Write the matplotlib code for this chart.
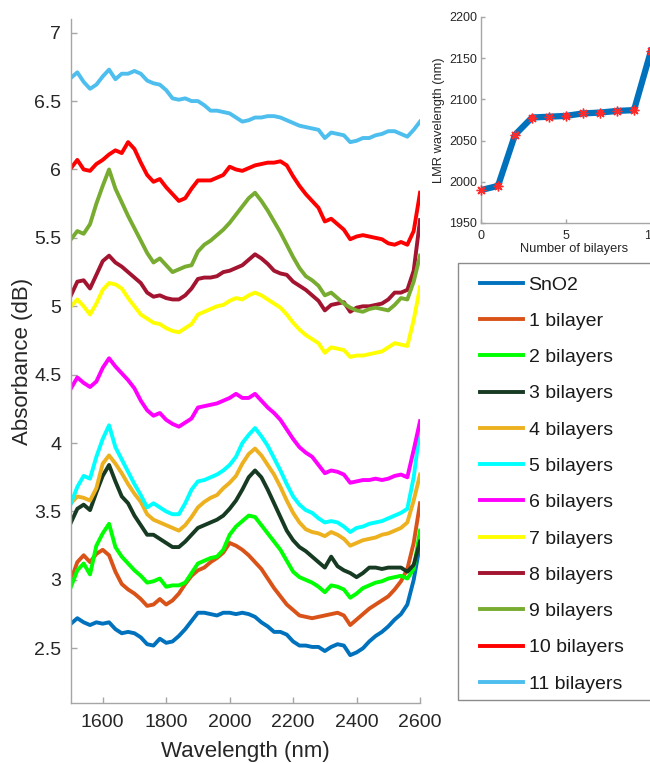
import numpy as np
import matplotlib.pyplot as plt
from matplotlib.patches import Rectangle

plt.rcParams['font.family'] = ['Liberation Sans', 'DejaVu Sans']

# ---- espectros de absorbancia (leitura a cada 20 nm) ----
wavelength = np.arange(1500, 2601, 20)

sno2 = [2.68, 2.72, 2.69, 2.67, 2.69, 2.68, 2.69, 2.64, 2.61, 2.62, 2.61, 2.58, 2.53, 2.52,
        2.57, 2.54, 2.55, 2.59, 2.64, 2.70, 2.76, 2.76, 2.75, 2.74, 2.76, 2.76, 2.75, 2.76,
        2.75, 2.73, 2.69, 2.66, 2.62, 2.62, 2.60, 2.55, 2.52, 2.52, 2.51, 2.51, 2.48, 2.51,
        2.53, 2.52, 2.45, 2.47, 2.50, 2.55, 2.59, 2.62, 2.66, 2.71, 2.75, 2.82, 3.00, 3.26]
bl1 = [3.00, 3.13, 3.18, 3.13, 3.19, 3.22, 3.18, 3.06, 2.97, 2.93, 2.90, 2.86, 2.81, 2.82,
       2.86, 2.82, 2.85, 2.90, 2.97, 3.03, 3.07, 3.09, 3.13, 3.16, 3.20, 3.27, 3.25, 3.22,
       3.18, 3.13, 3.08, 3.01, 2.94, 2.88, 2.82, 2.78, 2.74, 2.73, 2.72, 2.73, 2.74, 2.75,
       2.76, 2.74, 2.67, 2.71, 2.75, 2.79, 2.82, 2.85, 2.88, 2.93, 2.99, 3.08, 3.27, 3.56]
bl2 = [2.95, 3.07, 3.12, 3.04, 3.25, 3.34, 3.41, 3.24, 3.17, 3.12, 3.07, 3.03, 2.98, 2.99,
       3.01, 2.95, 2.96, 2.96, 2.98, 3.05, 3.12, 3.14, 3.16, 3.17, 3.22, 3.33, 3.39, 3.43,
       3.47, 3.46, 3.40, 3.34, 3.28, 3.22, 3.14, 3.06, 3.02, 3.00, 2.98, 2.95, 2.91, 2.96,
       2.95, 2.93, 2.87, 2.90, 2.94, 2.96, 2.98, 2.99, 3.01, 3.02, 3.03, 3.01, 3.08, 3.36]
bl3 = [3.42, 3.52, 3.55, 3.51, 3.64, 3.76, 3.84, 3.72, 3.61, 3.56, 3.47, 3.40, 3.33, 3.33,
       3.30, 3.27, 3.24, 3.24, 3.28, 3.33, 3.38, 3.40, 3.42, 3.44, 3.47, 3.52, 3.58, 3.66,
       3.75, 3.80, 3.75, 3.66, 3.56, 3.46, 3.36, 3.29, 3.24, 3.21, 3.17, 3.13, 3.09, 3.17,
       3.10, 3.07, 3.05, 3.02, 3.05, 3.09, 3.09, 3.08, 3.09, 3.09, 3.09, 3.06, 3.11, 3.28]
bl4 = [3.56, 3.61, 3.60, 3.58, 3.67, 3.85, 3.91, 3.85, 3.78, 3.70, 3.63, 3.57, 3.48, 3.44,
       3.42, 3.40, 3.38, 3.36, 3.40, 3.46, 3.53, 3.57, 3.60, 3.62, 3.67, 3.71, 3.76, 3.85,
       3.92, 3.96, 3.91, 3.84, 3.77, 3.68, 3.58, 3.49, 3.42, 3.37, 3.35, 3.34, 3.32, 3.35,
       3.33, 3.30, 3.25, 3.27, 3.29, 3.30, 3.31, 3.33, 3.34, 3.36, 3.38, 3.42, 3.58, 3.77]
bl5 = [3.56, 3.68, 3.76, 3.74, 3.90, 4.03, 4.13, 3.97, 3.88, 3.79, 3.70, 3.62, 3.53, 3.56,
       3.53, 3.50, 3.48, 3.48, 3.56, 3.66, 3.72, 3.73, 3.75, 3.77, 3.80, 3.84, 3.90, 4.00,
       4.06, 4.11, 4.05, 3.98, 3.89, 3.80, 3.70, 3.61, 3.55, 3.51, 3.49, 3.45, 3.42, 3.43,
       3.42, 3.39, 3.35, 3.38, 3.39, 3.41, 3.42, 3.43, 3.45, 3.47, 3.49, 3.52, 3.75, 4.10]
bl6 = [4.40, 4.48, 4.44, 4.41, 4.45, 4.55, 4.62, 4.56, 4.51, 4.46, 4.40, 4.31, 4.24, 4.20,
       4.22, 4.17, 4.14, 4.12, 4.15, 4.18, 4.26, 4.27, 4.28, 4.29, 4.31, 4.33, 4.36, 4.33,
       4.33, 4.36, 4.31, 4.26, 4.22, 4.17, 4.10, 4.03, 3.97, 3.93, 3.90, 3.84, 3.78, 3.80,
       3.79, 3.77, 3.71, 3.72, 3.73, 3.73, 3.74, 3.73, 3.74, 3.76, 3.77, 3.75, 3.95, 4.16]
bl7 = [5.00, 5.05, 5.00, 4.94, 5.02, 5.12, 5.17, 5.16, 5.13, 5.06, 5.00, 4.94, 4.91, 4.88,
       4.87, 4.84, 4.82, 4.81, 4.84, 4.87, 4.94, 4.96, 4.98, 5.00, 5.01, 5.04, 5.06, 5.05,
       5.08, 5.10, 5.08, 5.05, 5.02, 4.99, 4.94, 4.88, 4.83, 4.79, 4.76, 4.73, 4.66, 4.70,
       4.69, 4.68, 4.63, 4.64, 4.64, 4.65, 4.66, 4.67, 4.70, 4.73, 4.72, 4.71, 4.90, 5.14]
bl8 = [5.08, 5.18, 5.19, 5.13, 5.23, 5.33, 5.37, 5.32, 5.29, 5.25, 5.21, 5.17, 5.10, 5.07,
       5.08, 5.06, 5.05, 5.05, 5.08, 5.13, 5.20, 5.21, 5.21, 5.22, 5.25, 5.26, 5.28, 5.30,
       5.34, 5.38, 5.35, 5.31, 5.26, 5.24, 5.23, 5.18, 5.15, 5.12, 5.08, 5.04, 4.97, 5.01,
       5.02, 5.03, 4.96, 4.99, 5.00, 5.00, 5.01, 5.02, 5.05, 5.10, 5.10, 5.12, 5.26, 5.63]
bl9 = [5.49, 5.55, 5.53, 5.60, 5.75, 5.88, 6.00, 5.86, 5.76, 5.66, 5.57, 5.48, 5.39, 5.32,
       5.35, 5.30, 5.25, 5.27, 5.29, 5.30, 5.40, 5.45, 5.48, 5.52, 5.56, 5.61, 5.67, 5.73,
       5.79, 5.83, 5.77, 5.70, 5.62, 5.54, 5.45, 5.36, 5.28, 5.22, 5.19, 5.15, 5.08, 5.10,
       5.06, 5.02, 4.99, 4.97, 4.96, 4.98, 4.99, 4.98, 4.97, 5.01, 5.06, 5.05, 5.18, 5.37]
bl10 = [6.01, 6.07, 6.00, 5.99, 6.04, 6.07, 6.11, 6.14, 6.12, 6.20, 6.15, 6.05, 5.96, 5.91,
        5.93, 5.87, 5.82, 5.77, 5.79, 5.86, 5.92, 5.92, 5.92, 5.94, 5.96, 6.02, 6.00, 5.99,
        6.01, 6.03, 6.04, 6.05, 6.05, 6.06, 6.03, 5.95, 5.88, 5.82, 5.77, 5.72, 5.62, 5.64,
        5.60, 5.56, 5.49, 5.51, 5.52, 5.51, 5.50, 5.49, 5.46, 5.45, 5.47, 5.45, 5.55, 5.83]
bl11 = [6.67, 6.71, 6.64, 6.59, 6.62, 6.68, 6.73, 6.66, 6.70, 6.70, 6.72, 6.70, 6.65, 6.63,
        6.62, 6.58, 6.52, 6.51, 6.52, 6.50, 6.50, 6.47, 6.43, 6.43, 6.42, 6.41, 6.38, 6.35,
        6.36, 6.38, 6.38, 6.39, 6.39, 6.38, 6.36, 6.34, 6.32, 6.31, 6.30, 6.29, 6.23, 6.27,
        6.26, 6.25, 6.20, 6.21, 6.23, 6.23, 6.25, 6.26, 6.28, 6.28, 6.26, 6.24, 6.29, 6.35]

espectros = [sno2, bl1, bl2, bl3, bl4, bl5, bl6, bl7, bl8, bl9, bl10, bl11]
rotulos = ['SnO2', '1 bilayer'] + [f'{n} bilayers' for n in range(2, 12)]
cores = ['#0072BD', '#D95319', '#00FF00', '#173A22', '#EDB120', '#00FFFF',
         '#FF00FF', '#FFFF00', '#A2142F', '#77AC30', '#FF0000', '#4DBEEE']

# ---- posicao da LMR vs numero de bicamadas ----
n_bicamadas = [0, 1, 2, 3, 4, 5, 6, 7, 8, 9, 10]
lmr = [1990, 1995, 2057, 2078, 2079, 2080, 2083, 2084, 2086, 2087, 2159]

cor_eixo = '#a6a6a6'
cor_texto = '#262626'
W, H = 650, 763   # tamanho da figura em pixels


def estilo_eixo(ax, tam):
    for lado in ('top', 'right'):
        ax.spines[lado].set_visible(False)
    for lado in ('left', 'bottom'):
        ax.spines[lado].set_color(cor_eixo)
        ax.spines[lado].set_linewidth(1.0)
    ax.tick_params(direction='in', colors=cor_eixo, labelcolor=cor_texto,
                   labelsize=tam, length=4, width=1.0)


fig = plt.figure(figsize=(W / 100, H / 100), dpi=100)

# === grafico principal ===
ax = fig.add_axes([0.1092, 0.0786, 0.5370, 0.8965])
linhas = []
for y, cor, nome in zip(espectros, cores, rotulos):
    ln, = ax.plot(wavelength, y, color=cor, lw=2.8, label=nome)
    linhas.append(ln)

ax.set_xlim(1500, 2600)
ax.set_ylim(2.1, 7.1)
ax.set_xticks([1600, 1800, 2000, 2200, 2400, 2600])
ax.set_yticks([2.5, 3, 3.5, 4, 4.5, 5, 5.5, 6, 6.5, 7])
ax.set_yticklabels(['2.5', '3', '3.5', '4', '4.5', '5', '5.5', '6', '6.5', '7'])
estilo_eixo(ax, 14)
ax.tick_params(axis='y', pad=7)
ax.tick_params(axis='x', pad=8)
ax.set_xlabel('Wavelength (nm)', fontsize=16, color=cor_texto, labelpad=7)
ax.set_ylabel('Absorbance (dB)', fontsize=16, color=cor_texto, labelpad=1)

# === inset: LMR ===
axi = fig.add_axes([481 / W, 1 - 223 / H, 187 / W, 206 / H])
axi.plot(n_bicamadas, lmr, color='#0072BD', lw=4.5, zorder=2)
axi.plot(n_bicamadas, lmr, ls='none', marker=(8, 2, 0), ms=7, color='#FF2A2A',
         mew=1.0, zorder=3, clip_on=False)
axi.set_xlim(0, 11)
axi.set_ylim(1950, 2200)
axi.set_xticks([0, 5, 10])
axi.set_yticks([1950, 2000, 2050, 2100, 2150, 2200])
estilo_eixo(axi, 9)
axi.tick_params(length=3, pad=3)
axi.tick_params(axis='x', pad=5)
axi.set_xlabel('Number of bilayers', fontsize=9.3, color=cor_texto, labelpad=1)
axi.set_ylabel('LMR wavelength (nm)', fontsize=9.3, color=cor_texto, labelpad=3)

# === legenda: moldura desenhada a parte, passa da borda direita ===
moldura = Rectangle((458 / W, 1 - 700 / H), 0.4, 437 / H, transform=fig.transFigure,
                    facecolor='white', edgecolor='#8c8c8c', lw=1.0, zorder=4)
fig.add_artist(moldura)
leg = fig.legend(handles=linhas, loc='upper left',
                 bbox_to_anchor=(480 / W, 1 - 276 / H),
                 bbox_transform=fig.transFigure, fontsize=14, frameon=False,
                 borderaxespad=0, borderpad=0, labelspacing=0.96,
                 handlelength=2.2, handletextpad=0.3)
leg.set_zorder(5)
for t in leg.get_texts():
    t.set_color('#1a1a1a')

fig.savefig('out.png', dpi=100)
